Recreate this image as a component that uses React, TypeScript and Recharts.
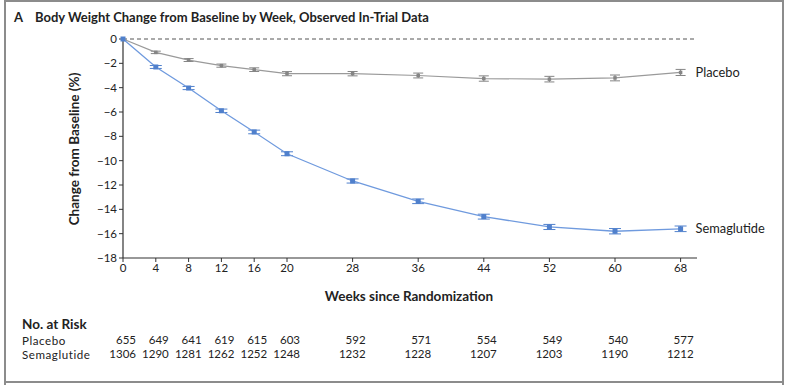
import React from 'react';
import { LineChart, Line, XAxis, YAxis, ReferenceLine, ErrorBar } from 'recharts';

const weeks = [0, 4, 8, 12, 16, 20, 28, 36, 44, 52, 60, 68];
const placebo = [0, -1.1, -1.73, -2.19, -2.52, -2.85, -2.85, -3.0, -3.25, -3.3, -3.2, -2.75];
const semaglutide = [0, -2.3, -4.03, -5.9, -7.64, -9.43, -11.67, -13.34, -14.6, -15.45, -15.8, -15.6];
const placeboErr = [0, 0.1, 0.12, 0.13, 0.15, 0.17, 0.18, 0.2, 0.22, 0.23, 0.24, 0.25];
const semaglutideErr = [0, 0.12, 0.13, 0.14, 0.15, 0.16, 0.17, 0.19, 0.2, 0.21, 0.22, 0.23];
const atRiskPlacebo = [655, 649, 641, 619, 615, 603, 592, 571, 554, 549, 540, 577];
const atRiskSemaglutide = [1306, 1290, 1281, 1262, 1252, 1248, 1232, 1228, 1207, 1203, 1190, 1212];
const yTicks = [0, -2, -4, -6, -8, -10, -12, -14, -16, -18];

const data = weeks.map((w, i) => ({
  week: w,
  placebo: placebo[i],
  semaglutide: semaglutide[i],
  pErr: placeboErr[i],
  sErr: semaglutideErr[i],
}));

const FONT = 'Lato, "DejaVu Sans", sans-serif';
const BLUE_LINE = '#6f9ade';
const BLUE_MARK = '#5080cc';
const GRAY_LINE = '#9a9a9a';
const GRAY_MARK = '#858585';

const fmt = (v: number) => (v < 0 ? `\u2212${-v}` : `${v}`);

const XTick = (props: any) => {
  const { x, y, payload } = props;
  const i = weeks.indexOf(payload.value);
  return (
    <g fontFamily={FONT} fontSize={11.5} fill="#222">
      <text x={x} y={y} dy="0.71em" textAnchor="middle">{payload.value}</text>
      <text x={x + 13} y={y + 80} textAnchor="end">{atRiskPlacebo[i]}</text>
      <text x={x + 13} y={y + 94} textAnchor="end">{atRiskSemaglutide[i]}</text>
    </g>
  );
};

const YTick = (props: any) => {
  const { x, y, payload } = props;
  return (
    <text x={x} y={y} dy="0.35em" textAnchor="end" fontFamily={FONT} fontSize={11.5} fill="#222">
      {fmt(payload.value)}
    </text>
  );
};

const makeDot = (size: number, color: string) => (props: any) => {
  const { cx, cy, index } = props;
  if (cx == null || cy == null) return <g key={index} />;
  return <rect key={index} x={cx - size / 2} y={cy - size / 2} width={size} height={size} fill={color} />;
};

const makeEndLabel = (text: string) => (props: any) => {
  const { x, y, index } = props;
  if (index !== weeks.length - 1) return <g key={index} />;
  return (
    <text key={index} x={x + 15} y={y} dy="0.35em" fontFamily={FONT} fontSize={12.8} fill="#222">
      {text}
    </text>
  );
};

const txt = (extra: React.CSSProperties): React.CSSProperties => ({
  position: 'absolute',
  color: '#222',
  whiteSpace: 'nowrap',
  lineHeight: 1,
  ...extra,
});

export default function App() {
  return (
    <div style={{ position: 'absolute', left: 0, top: 0, width: 791, height: 385, background: '#fff', fontFamily: FONT }}>
      <div style={{ position: 'absolute', left: 4, top: 0, width: 776, height: 379, borderLeft: '2px solid #8c8c8c', borderRight: '2px solid #8c8c8c', borderTop: '2px solid #8c8c8c', borderBottom: '2px solid #8c8c8c' }} />
      <div style={{ position: 'absolute', left: 4, top: 383, width: 776, height: 2, borderLeft: '2px solid #8c8c8c', borderRight: '2px solid #8c8c8c' }} />
      <div style={txt({ left: 14, top: 11, fontSize: 13, fontWeight: 700 })}>A</div>
      <div style={txt({ left: 35, top: 11, fontSize: 13, fontWeight: 700 })}>
        Body Weight Change from Baseline by Week, Observed In-Trial Data
      </div>
      <div style={txt({ left: 75, top: 148.5, transform: 'translate(-50%, -50%) rotate(-90deg)', fontSize: 13.5, fontWeight: 700 })}>
        Change from Baseline (%)
      </div>
      <div style={txt({ left: 409, top: 297, transform: 'translate(-50%, -50%)', fontSize: 13.5, fontWeight: 700 })}>
        Weeks since Randomization
      </div>
      <div style={txt({ left: 22, top: 318, fontSize: 13.5, fontWeight: 700 })}>No. at Risk</div>
      <div style={txt({ left: 22, top: 334.5, fontSize: 11.6, letterSpacing: 0.55 })}>Placebo</div>
      <div style={txt({ left: 22, top: 348.5, fontSize: 11.6, letterSpacing: 0.55 })}>Semaglutide</div>
      <div style={{ position: 'absolute', left: 0, top: 0 }}>
        <LineChart width={791} height={385} data={data} margin={{ top: 39, right: 94, bottom: 97, left: 83 }}>
          <XAxis
            dataKey="week"
            type="number"
            domain={[0, 70]}
            ticks={weeks}
            interval={0}
            tick={<XTick />}
            tickSize={4}
            tickMargin={2}
            height={30}
            stroke="#333"
            axisLine={{ stroke: '#333', strokeWidth: 1.2 }}
            tickLine={{ stroke: '#333' }}
          />
          <YAxis
            type="number"
            domain={[-18, 0]}
            ticks={yTicks}
            interval={0}
            tick={<YTick />}
            tickSize={4}
            tickMargin={2}
            width={40}
            stroke="#333"
            axisLine={{ stroke: '#333', strokeWidth: 1.2 }}
            tickLine={{ stroke: '#333' }}
          />
          <ReferenceLine y={0} stroke="#555" strokeDasharray="4 3" strokeWidth={1} />
          <Line
            dataKey="placebo"
            stroke={GRAY_LINE}
            strokeWidth={1.2}
            dot={makeDot(3.5, GRAY_MARK)}
            activeDot={false}
            label={makeEndLabel('Placebo')}
            isAnimationActive={false}
          >
            <ErrorBar dataKey="pErr" width={5} stroke={GRAY_MARK} strokeWidth={1} direction="y" isAnimationActive={false} />
          </Line>
          <Line
            dataKey="semaglutide"
            stroke={BLUE_LINE}
            strokeWidth={1.3}
            dot={makeDot(5, BLUE_MARK)}
            activeDot={false}
            label={makeEndLabel('Semaglutide')}
            isAnimationActive={false}
          >
            <ErrorBar dataKey="sErr" width={6} stroke={BLUE_MARK} strokeWidth={1} direction="y" isAnimationActive={false} />
          </Line>
        </LineChart>
      </div>
    </div>
  );
}
